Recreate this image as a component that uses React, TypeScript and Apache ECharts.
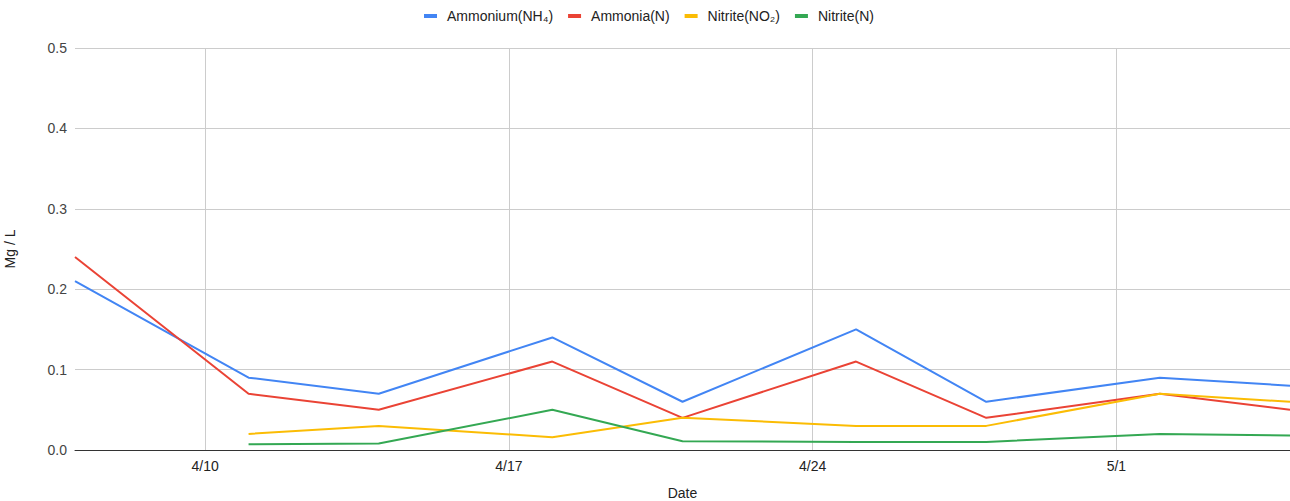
import React, { useEffect, useRef } from "react";
import * as echarts from "echarts";

const dates = ["4/7", "4/11", "4/14", "4/18", "4/21", "4/25", "4/28", "5/2", "5/5"];
const ammoniumNH4 = [0.21, 0.09, 0.07, 0.14, 0.06, 0.15, 0.06, 0.09, 0.08];
const ammoniaN = [0.24, 0.07, 0.05, 0.11, 0.04, 0.11, 0.04, 0.07, 0.05];
const nitriteNO2: (number | null)[] = [null, 0.02, 0.03, 0.016, 0.04, 0.03, 0.03, 0.07, 0.06];
const nitriteN: (number | null)[] = [null, 0.007, 0.008, 0.05, 0.011, 0.01, 0.01, 0.02, 0.018];
const xTickLabels = ["4/10", "4/17", "4/24", "5/1"];

const monthStart: Record<number, number> = { 4: 0, 5: 30 };
// day offset relative to 4/10
const dayOf = (s: string) => {
  const [m, d] = s.split("/").map(Number);
  return monthStart[m] + d - 10;
};
const labelOf = (v: number) => {
  const d = v + 10;
  if (d > 30) return `5/${d - 30}`;
  return `4/${d}`;
};

const toPairs = (vals: (number | null)[]) =>
  vals.map((v, i) => (v == null ? null : [dayOf(dates[i]), v])).filter((p) => p !== null);

const FONT = "'Liberation Sans', Arial, sans-serif";

export default function App() {
  const ref = useRef<HTMLDivElement>(null);
  useEffect(() => {
    document.body.style.margin = "0";
    const chart = echarts.init(ref.current!, null, { renderer: "svg" });
    const tickVals = xTickLabels.map(dayOf);
    const mk = (name: string, color: string, vals: (number | null)[]) => ({
      name,
      type: "line",
      data: toPairs(vals),
      showSymbol: false,
      symbol: "none",
      lineStyle: { color, width: 2 },
      itemStyle: { color },
      z: 3,
    });
    chart.setOption({
      animation: false,
      textStyle: { fontFamily: FONT },
      legend: {
        top: 9,
        left: 424,
        icon: "rect",
        itemWidth: 13,
        itemHeight: 4,
        itemGap: 15,
        padding: 0,
        textStyle: { fontSize: 14, color: "#222", fontFamily: FONT, padding: [0, 0, 0, 5] },
      },
      grid: { left: 75, right: 0, top: 48, bottom: 51, containLabel: false, outerBoundsMode: "none" },
      xAxis: {
        type: "value",
        min: dayOf(dates[0]),
        max: dayOf(dates[dates.length - 1]),
        name: "Date",
        nameLocation: "middle",
        nameGap: 36,
        nameTextStyle: { fontSize: 14, color: "#222", fontFamily: FONT },
        axisLine: { show: true, lineStyle: { color: "#333", width: 1 } },
        axisTick: { show: false, customValues: tickVals },
        axisLabel: {
          customValues: tickVals,
          formatter: (v: number) => labelOf(v),
          fontSize: 14,
          color: "#222",
          margin: 9,
          fontFamily: FONT,
        },
        splitLine: { show: true, lineStyle: { color: "#ccc", width: 1 } },
      },
      yAxis: {
        type: "value",
        min: 0,
        max: 0.5,
        interval: 0.1,
        name: "Mg / L",
        nameLocation: "middle",
        nameGap: 58,
        nameRotate: 90,
        nameTextStyle: { fontSize: 14, color: "#222", fontFamily: FONT },
        axisLine: { show: false },
        axisTick: { show: false },
        axisLabel: {
          formatter: (v: number) => v.toFixed(1),
          fontSize: 14,
          color: "#444",
          margin: 8,
          fontFamily: FONT,
        },
        splitLine: { show: true, lineStyle: { color: "#ccc", width: 1 } },
      },
      series: [
        mk("Ammonium(NH₄)", "#4285F4", ammoniumNH4),
        mk("Ammonia(N)", "#EA4335", ammoniaN),
        mk("Nitrite(NO₂)", "#FBBC04", nitriteNO2),
        mk("Nitrite(N)", "#34A853", nitriteN),
      ],
    });
    return () => chart.dispose();
  }, []);
  return (
    <div
      ref={ref}
      style={{ position: "absolute", left: 0, top: 0, width: 1290, height: 501, background: "#fff" }}
    />
  );
}
